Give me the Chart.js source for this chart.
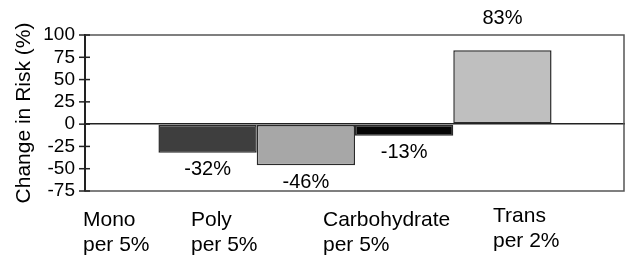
<!DOCTYPE html>
<html>
<head>
<meta charset="utf-8">
<script src="https://cdn.jsdelivr.net/npm/chart.js@4/dist/chart.umd.min.js"></script>
<style>
  html, body { margin: 0; padding: 0; background: #fff; }
  #riskChart { display: block; }
</style>
</head>
<body>
<canvas id="riskChart" width="626" height="258"></canvas>
<script>
// Data
const categories = [['Mono', 'per 5%'], ['Poly', 'per 5%'], ['Carbohydrate', 'per 5%'], ['Trans', 'per 2%']];
const riskChange = [-32, -46, -13, 83];
const barColors = ['#3e3e3e', '#a7a7a7', '#050505', '#bfbfbf'];
const yMin = -75;
const yMax = 100;
const yStep = 25;

const FONT = 'Liberation Sans, Arial, Helvetica, sans-serif';

// one group, four adjacent bars
const datasets = riskChange.map(function (v, i) {
    return {
        label: categories[i].join(' '),
        data: [v],
        backgroundColor: barColors[i],
        borderColor: '#2a2a2a',
        borderWidth: 1.5,
        borderSkipped: false,
        categoryPercentage: 0.728,
        barPercentage: 1
    };
});

// value labels, frame, inner tick marks and bottom category text
const decorations = {
    id: 'decorations',
    afterDatasetsDraw(chart) {
        const ctx = chart.ctx;
        const area = chart.chartArea;
        ctx.save();
        ctx.fillStyle = '#000';
        ctx.font = '20px ' + FONT;
        ctx.textAlign = 'center';
        ctx.textBaseline = 'middle';
        chart.data.datasets.forEach(function (ds, i) {
            const bar = chart.getDatasetMeta(i).data[0];
            const v = ds.data[0];
            const y = v < 0 ? bar.y + 17 : bar.y - 32;
            ctx.fillText(v + '%', bar.x, y);
        });

        // frame
        ctx.strokeStyle = '#555';
        ctx.lineWidth = 1.5;
        ctx.beginPath();
        ctx.moveTo(area.left, area.top);
        ctx.lineTo(area.right - 1, area.top);
        ctx.lineTo(area.right - 1, area.bottom);
        ctx.lineTo(area.left, area.bottom);
        ctx.stroke();

        // tick marks that cross the axis
        const yScale = chart.scales.y;
        ctx.strokeStyle = '#222';
        ctx.lineWidth = 1.5;
        yScale.ticks.forEach(function (t) {
            const py = yScale.getPixelForValue(t.value);
            ctx.beginPath();
            ctx.moveTo(area.left - 6, py);
            ctx.lineTo(area.left + 5, py);
            ctx.stroke();
        });

        // category text under the plot
        const xOffsets = [-2, 106, 238, 408];
        const yShift = [0, 0, 0, -4];
        ctx.font = '21px ' + FONT;
        ctx.textAlign = 'left';
        ctx.fillStyle = '#000';
        categories.forEach(function (lines, i) {
            lines.forEach(function (line, j) {
                ctx.fillText(line, area.left + xOffsets[i], 220 + yShift[i] + j * 25);
            });
        });
        ctx.restore();
    }
};

const ctx = document.getElementById('riskChart').getContext('2d');
new Chart(ctx, {
    type: 'bar',
    data: {
        labels: [''],
        datasets: datasets
    },
    options: {
        responsive: false,
        animation: false,
        layout: {
            padding: { top: 35, right: 1, bottom: 67, left: 0 }
        },
        plugins: {
            legend: { display: false },
            tooltip: { enabled: false }
        },
        scales: {
            x: {
                display: false
            },
            y: {
                min: yMin,
                max: yMax,
                ticks: {
                    stepSize: yStep,
                    autoSkip: false,
                    color: '#000',
                    padding: 4,
                    font: { family: FONT, size: 19 }
                },
                border: { display: true, color: '#222', width: 2 },
                grid: {
                    drawOnChartArea: true,
                    tickLength: 6,
                    tickColor: 'rgba(0,0,0,0)',
                    lineWidth: 1.5,
                    color: function (c) {
                        return c.tick && c.tick.value === 0 ? '#222' : 'rgba(0,0,0,0)';
                    }
                },
                title: {
                    display: true,
                    text: 'Change in Risk (%)',
                    color: '#000',
                    padding: { top: 12, bottom: 2 },
                    font: { family: FONT, size: 21 }
                },
                afterFit: function (scale) {
                    scale.width = 85;
                }
            }
        }
    },
    plugins: [decorations]
});
</script>
</body>
</html>
